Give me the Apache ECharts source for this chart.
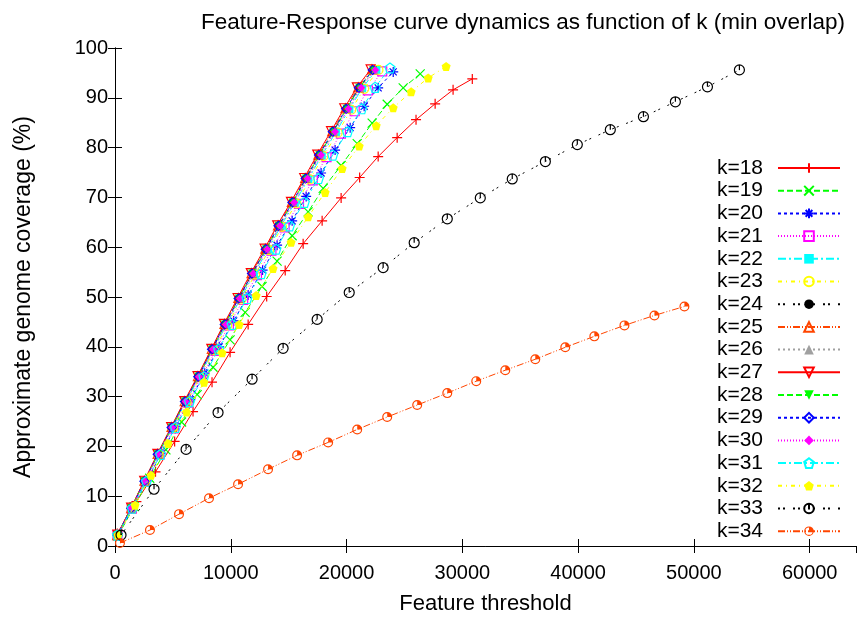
<!DOCTYPE html>
<html>
<head>
<meta charset="utf-8">
<script src="https://cdn.jsdelivr.net/npm/echarts@6/dist/echarts.min.js"></script>
<style>html,body{margin:0;padding:0;background:#fff}#c{width:858px;height:620px}</style>
</head>
<body>
<div id="c"></div>
<script>
// ---- data ----
const seriesNames = ['k=18','k=19','k=20','k=21','k=22','k=23','k=24','k=25','k=26','k=27','k=28','k=29','k=30','k=31','k=32','k=33','k=34'];
const xTicks = [0,10000,20000,30000,40000,50000,60000];
const yTicks = [0,10,20,30,40,50,60,70,80,90,100];

const k18 = [[200,2.5],[1850,8.9],[3500,14.9],[5150,21.0],[6740,27.0],[8380,32.9],[9940,38.9],[11500,44.5],[13100,50.1],[14700,55.3],[16250,60.7],[17890,65.3],[19530,69.9],[21130,74.0],[22730,78.2],[24370,82.0],[26000,85.6],[27650,88.8],[29200,91.6],[30860,93.8]];
const k19 = [[250,2.0],[1650,7.9],[3000,13.6],[4400,19.3],[5750,24.9],[7100,30.4],[8470,35.9],[9940,41.4],[11240,46.9],[12700,52.1],[14000,57.2],[15300,62.3],[16680,67.1],[17980,71.8],[19530,76.4],[20920,80.8],[22210,84.9],[23510,88.7],[24890,92.0],[26360,94.8]];
const k20 = [[250,2.1],[1500,7.6],[2750,13.1],[4000,18.6],[5250,24.0],[6500,29.4],[7750,34.7],[9000,40.0],[10250,45.2],[11500,50.4],[12750,55.4],[14000,60.4],[15300,65.3],[16510,70.2],[17800,74.9],[19010,79.5],[20310,84.0],[21520,88.3],[22730,92.0],[24030,95.2]];
const k21 = [[210,2.2],[1450,7.5],[2640,12.9],[3830,18.3],[5070,23.6],[6260,28.8],[7450,33.9],[8690,39.2],[9830,44.3],[11070,49.4],[12260,54.4],[13510,59.3],[14650,64.0],[15890,68.7],[17080,73.4],[18270,78.1],[19510,82.8],[20700,87.3],[21840,91.5],[23080,95.3]];
const k22 = [[200,2.2],[1420,7.6],[2580,13.0],[3740,18.4],[4960,23.7],[6120,28.9],[7290,34.0],[8500,39.4],[9610,44.4],[10830,49.6],[11990,54.6],[13210,59.5],[14320,64.2],[15530,68.9],[16700,73.7],[17860,78.4],[19080,83.1],[20240,87.7],[21350,91.9],[22570,95.6]];
const k23 = [[210,2.2],[1430,7.6],[2600,13.0],[3770,18.3],[5000,23.7],[6170,28.9],[7340,33.9],[8570,39.3],[9690,44.3],[10910,49.5],[12090,54.5],[13310,59.4],[14430,64.1],[15660,68.8],[16830,73.6],[18000,78.3],[19230,83.0],[20400,87.6],[21520,91.8],[22750,95.6]];
const k24 = [[190,2.3],[1390,7.7],[2540,13.0],[3690,18.4],[4890,23.8],[6040,29.0],[7190,34.1],[8390,39.5],[9490,44.5],[10690,49.7],[11840,54.7],[13040,59.6],[14140,64.3],[15340,69.0],[16490,73.8],[17640,78.5],[18840,83.2],[19990,87.8],[21090,92.0],[22290,95.6]];
const k25 = [[190,2.2],[1390,7.6],[2540,13.1],[3680,18.5],[4880,23.9],[6020,29.1],[7160,34.1],[8360,39.6],[9450,44.6],[10650,49.8],[11790,54.8],[12980,59.7],[14080,64.4],[15270,69.1],[16420,73.9],[17560,78.6],[18760,83.3],[19900,87.9],[21000,92.1],[22190,95.7]];
const k26 = [[200,2.2],[1410,7.6],[2560,13.0],[3720,18.4],[4920,23.8],[6080,29.0],[7240,34.0],[8440,39.5],[9550,44.5],[10750,49.7],[11910,54.7],[13120,59.6],[14220,64.3],[15430,69.0],[16580,73.8],[17740,78.5],[18940,83.2],[20100,87.8],[21210,92.0],[22410,95.6]];
const k27 = [[200,2.3],[1390,7.7],[2520,13.1],[3660,18.5],[4850,23.9],[5990,29.1],[7130,34.1],[8320,39.6],[9410,44.6],[10590,49.8],[11730,54.8],[12920,59.7],[14010,64.4],[15200,69.1],[16340,73.9],[17470,78.6],[18660,83.3],[19800,87.9],[20890,92.1],[22080,95.7]];
const k28 = [[200,2.2],[1400,7.6],[2550,13.0],[3700,18.4],[4900,23.8],[6050,29.0],[7200,34.0],[8400,39.5],[9500,44.5],[10700,49.7],[11850,54.7],[13050,59.6],[14150,64.3],[15350,69.0],[16500,73.8],[17650,78.5],[18850,83.2],[20000,87.8],[21100,92.0],[22300,95.6]];
const k29 = [[200,2.2],[1400,7.6],[2540,13.0],[3690,18.4],[4890,23.8],[6040,29.0],[7190,34.0],[8380,39.5],[9480,44.5],[10680,49.7],[11830,54.7],[13020,59.6],[14120,64.3],[15320,69.0],[16470,73.8],[17620,78.5],[18810,83.2],[19960,87.8],[21060,92.0],[22260,95.6]];
const k30 = [[200,2.2],[1410,7.6],[2570,13.0],[3730,18.4],[4940,23.8],[6100,29.0],[7260,34.0],[8470,39.5],[9580,44.5],[10790,49.7],[11940,54.7],[13150,59.6],[14260,64.3],[15470,69.0],[16630,73.8],[17790,78.5],[19000,83.2],[20160,87.8],[21270,92.0],[22480,95.6]];
const k31 = [[210,2.2],[1490,7.6],[2720,13.0],[3940,18.4],[5220,23.8],[6440,29.0],[7670,34.0],[8950,39.5],[10120,44.5],[11400,49.7],[12620,54.7],[13900,59.6],[15070,64.3],[16350,69.0],[17570,73.8],[18800,78.5],[20080,83.2],[21300,87.8],[22470,92.1],[23750,96.0]];
const k32 = [[250,2.2],[1730,8.2],[3110,14.2],[4580,20.6],[6180,26.9],[7690,32.9],[9250,38.8],[10720,44.5],[12190,50.3],[13650,55.7],[15210,61.0],[16680,66.1],[18150,71.0],[19620,75.8],[21090,80.3],[22560,84.4],[24030,88.0],[25580,91.2],[27050,94.0],[28600,96.3]];
const k33 = [[520,2.2],[3370,11.4],[6140,19.4],[8900,26.8],[11840,33.5],[14520,39.7],[17460,45.5],[20230,50.9],[23160,55.9],[25840,60.9],[28700,65.7],[31550,69.9],[34310,73.7],[37170,77.2],[39930,80.6],[42780,83.6],[45640,86.2],[48400,89.2],[51170,92.2],[53930,95.6]];
const k34 = [[430,0.6],[3020,3.2],[5530,6.4],[8120,9.6],[10630,12.4],[13220,15.4],[15730,18.2],[18410,20.8],[20920,23.4],[23510,25.9],[26100,28.3],[28700,30.7],[31200,33.1],[33710,35.3],[36300,37.5],[38890,39.9],[41400,42.1],[44000,44.3],[46590,46.3],[49180,48.1]];
const seriesData = [k18,k19,k20,k21,k22,k23,k24,k25,k26,k27,k28,k29,k30,k31,k32,k33,k34];

// ---- styles ----
const FONT = '"Liberation Sans", Arial, Helvetica, sans-serif';
const cRed='#ff0000', cGreen='#00ff00', cBlue='#0000ff', cMag='#ff00ff', cCyan='#00ffff', cYel='#ffff00', cBlk='#000000', cOra='#ff4500', cGray='#a0a0a0';
const colors = [cRed,cGreen,cBlue,cMag,cCyan,cYel,cBlk,cOra,cGray, cRed,cGreen,cBlue,cMag,cCyan,cYel,cBlk,cOra];
const dSolid='solid', dGreen=[6,3], dBlue=[3,3], dMag=[1,2], dCyan=[8,3,2,3], dYel=[4,4,1,4], dBlk=[2,3,2,8], dOra=[7,2,1,2,1,2], dGray=[2,3];
const dashes = [dSolid,dGreen,dBlue,dMag,dCyan,dYel,dBlk,dOra,dGray, dSolid,dGreen,dBlue,dMag,dCyan,dYel,dBlk,dOra];

const P_PLUS = 'path://M0,5L10,5M5,0L5,10';
const P_X = 'path://M0,0L10,10M10,0L0,10';
const P_STAR = 'path://M0,5L10,5M5,0L5,10M1.5,1.5L8.5,8.5M8.5,1.5L1.5,8.5';
const P_ITRI = 'path://M0,0L10,0L5,9Z';
const P_PENT = 'path://M5,0L10,3.8L8.1,10L1.9,10L0,3.8Z';
const P_CLOCK = 'path://M10,5A5,5 0 1,1 0,5A5,5 0 1,1 10,5ZM5,5L5,0.5';
const P_QUART = 'path://M10,5A5,5 0 1,1 0,5A5,5 0 1,1 10,5ZM8.8,5A3.8,3.8 0 1,0 1.2,5A3.8,3.8 0 1,0 8.8,5ZM5,5L5,1.2A3.8,3.8 0 0,1 8.8,5Z';
// [symbol, filled, strokeOnly]
const marks = [
  [P_PLUS,false,true],[P_X,false,true],[P_STAR,false,true],['rect',false,false],['rect',true,false],
  ['circle',false,false],['circle',true,false],['triangle',false,false],['triangle',true,false],
  [P_ITRI,false,false],[P_ITRI,true,false],['diamond',false,false],['diamond',true,false],
  [P_PENT,false,false],[P_PENT,true,false],[P_CLOCK,false,true],[P_QUART,true,false]
];
const sizes = [10,9,10,9,8,9,8,9,8,9,8,9,8,10,9,10,10];

const series = seriesData.map((d,i)=>{
  const col = colors[i];
  const m = marks[i];
  let itemStyle;
  if (m[1]) itemStyle = {color: col, borderWidth: 0};
  else itemStyle = {color: 'rgba(255,255,255,0)', borderColor: col, borderWidth: 1.2};
  return {
    name: seriesNames[i], type: 'line', data: d,
    symbol: m[0], symbolSize: sizes[i], showSymbol: true,
    lineStyle: {color: col, width: 1, type: dashes[i]},
    itemStyle: itemStyle,
    emphasis: {disabled: true},
    animation: false, z: 2 + i
  };
});

const chart = echarts.init(document.getElementById('c'), null, {renderer: 'canvas'});
const axisCommon = {
  axisLine: {show: true, lineStyle: {color: '#000', width: 1}},
  axisTick: {show: true, inside: true, length: 7, lineStyle: {color: '#000'}},
  splitLine: {show: false}
};
chart.setOption({
  animation: false,
  backgroundColor: '#fff',
  textStyle: {fontFamily: FONT},
  title: {
    text: 'Feature-Response curve dynamics as function of k (min overlap)',
    left: 518, top: 6, textAlign: 'center',
    textStyle: {fontFamily: FONT, fontSize: 22.5, fontWeight: 'normal', color: '#000'}
  },
  grid: {left: 115, right: 2, top: 48, bottom: 73, containLabel: false},
  legend: {
    data: seriesNames, orient: 'vertical', right: 12, top: 152.5, align: 'right',
    itemWidth: 62, itemHeight: 12, itemGap: 1.7, selectedMode: false,
    textStyle: {fontFamily: FONT, fontSize: 21, lineHeight: 21, color: '#000', padding: [0, 10, 0, 0]}
  },
  xAxis: [
    Object.assign({
      type: 'value', min: 0, max: 64000, interval: 10000,
      name: 'Feature threshold', nameLocation: 'middle', nameGap: 47,
      nameTextStyle: {fontFamily: FONT, fontSize: 22, color: '#000'},
      axisLabel: {fontFamily: FONT, fontSize: 20, color: '#000', margin: 17, showMaxLabel: false,
        formatter: v => (xTicks.indexOf(v) >= 0 ? String(v) : '')}
    }, axisCommon),
    Object.assign({
      type: 'value', position: 'top', min: 0, max: 64000, interval: 10000,
      axisLabel: {show: false}
    }, axisCommon)
  ],
  yAxis: [
    Object.assign({
      type: 'value', min: 0, max: 100, interval: 10,
      name: 'Approximate genome coverage (%)', nameLocation: 'middle', nameGap: 80,
      nameTextStyle: {fontFamily: FONT, fontSize: 23, color: '#000'},
      axisLabel: {fontFamily: FONT, fontSize: 20, color: '#000', margin: 7,
        formatter: v => (yTicks.indexOf(v) >= 0 ? String(v) : '')}
    }, axisCommon),
    Object.assign({
      type: 'value', position: 'right', min: 0, max: 100, interval: 10,
      axisLabel: {show: false}
    }, axisCommon)
  ],
  series: series
});
</script>
</body>
</html>
